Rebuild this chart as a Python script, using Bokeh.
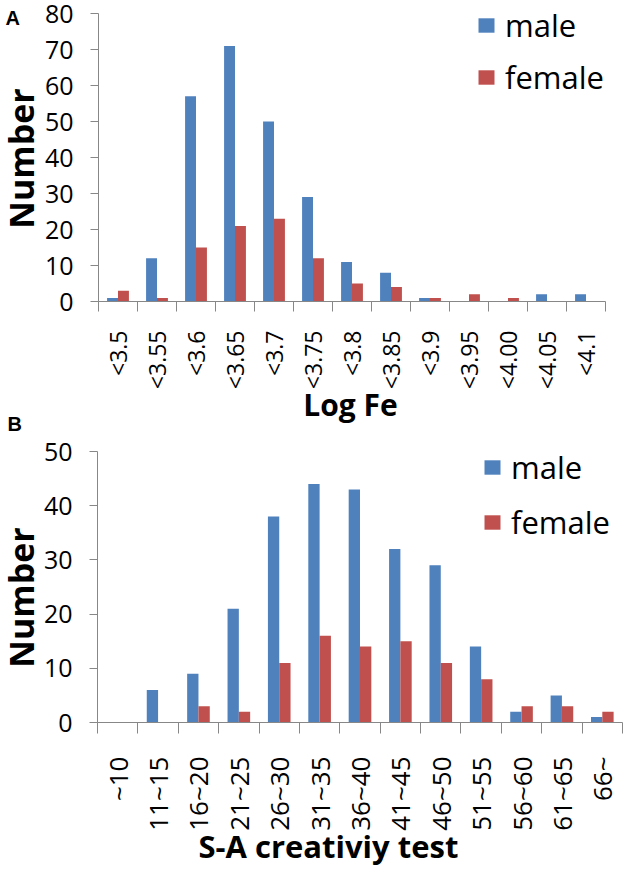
import numpy as np
from bokeh.plotting import figure
from bokeh.models import (FixedTicker, Label, Legend, LegendItem, Range1d,
                          ColumnDataSource)
from bokeh.layouts import column, row
from bokeh.embed import file_html
from bokeh.resources import INLINE

# ---------------- data ----------------
fe_categories = ["<3.5", "<3.55", "<3.6", "<3.65", "<3.7", "<3.75", "<3.8",
                 "<3.85", "<3.9", "<3.95", "<4.00", "<4.05", "<4.1"]
fe_male = [1, 12, 57, 71, 50, 29, 11, 8, 1, 0, 0, 2, 2]
fe_female = [3, 1, 15, 21, 23, 12, 5, 4, 1, 2, 1, 0, 0]
fe_yticks = [0, 10, 20, 30, 40, 50, 60, 70, 80]

sa_categories = ["~10", "11~15", "16~20", "21~25", "26~30", "31~35", "36~40",
                 "41~45", "46~50", "51~55", "56~60", "61~65", "66~"]
sa_male = [0, 6, 9, 21, 38, 44, 43, 32, 29, 14, 2, 5, 1]
sa_female = [0, 0, 3, 2, 11, 16, 14, 15, 11, 8, 3, 3, 2]
sa_yticks = [0, 10, 20, 30, 40, 50]

series_names = ["male", "female"]
y_title = "Number"
x_titles = ["Log Fe", "S-A creativiy test"]
panel_letters = ["A", "B"]

BLUE = "#4F81BD"
RED = "#C0504D"
AXIS = "#878787"
FONT = "Open Sans"
BAR_W = 0.28
STRIP_W = 38
MAIN_W = 590
FULL_W = STRIP_W + MAIN_W


def text_fig(width, height, labels):
    """Figure whose frame is the whole canvas, used to hold free text."""
    s = figure(width=width, height=height, output_backend="svg",
               toolbar_location=None, x_range=Range1d(0, width),
               y_range=Range1d(0, height), min_border=0,
               x_axis_location=None, y_axis_location=None, frame_align=False)
    s.outline_line_color = None
    s.grid.visible = False
    for lab in labels:
        s.add_layout(lab)
    return s


def letter(text, x, y):
    return Label(x=x, y=y, text=text, text_font="Liberation Sans",
                 text_font_style="bold", text_font_size="20px",
                 text_align="left", text_baseline="alphabetic", text_color="black")


def ytitle(x, y):
    return Label(x=x, y=y, text=y_title, text_font=FONT, text_font_style="bold",
                 text_font_size="34px", text_align="center", angle=np.pi / 2,
                 text_baseline="middle", text_color="black")


def xtitle(text, x, y, align, size):
    return Label(x=x, y=y, text=text, text_font=FONT, text_font_style="bold",
                 text_font_size=size, text_align=align,
                 text_baseline="alphabetic", text_color="black")


def panel(cats, male, female, yticks, height, b_left, b_right, b_top, b_bottom,
          tick_font, tick_standoff, tick_out, legend_loc, legend_spacing):
    n = len(cats)
    centers = np.arange(n) + 0.5
    bounds = list(np.arange(n + 1).astype(float))
    p = figure(width=MAIN_W, height=height, output_backend="svg",
               toolbar_location=None, x_range=Range1d(0, n),
               y_range=Range1d(yticks[0], yticks[-1]),
               min_border_left=b_left, min_border_right=b_right,
               min_border_top=b_top, min_border_bottom=b_bottom,
               frame_align=False)
    p.outline_line_color = None
    p.xgrid.visible = False
    p.ygrid.visible = False

    src = ColumnDataSource(dict(xm=centers - BAR_W / 2, xf=centers + BAR_W / 2,
                                male=male, female=female))
    rm = p.vbar(x="xm", top="male", width=BAR_W, source=src,
                fill_color=BLUE, line_color=None)
    rf = p.vbar(x="xf", top="female", width=BAR_W, source=src,
                fill_color=RED, line_color=None)

    xa = p.xaxis[0]
    xa.ticker = FixedTicker(ticks=list(centers), minor_ticks=bounds)
    xa.major_label_overrides = {float(c): lab for c, lab in zip(centers, cats)}
    xa.major_tick_out = 0
    xa.major_tick_in = 0
    xa.minor_tick_out = tick_out
    xa.minor_tick_in = 0
    xa.minor_tick_line_color = AXIS
    xa.axis_line_color = AXIS
    xa.major_label_orientation = np.pi / 2
    xa.major_label_text_font = FONT
    xa.major_label_text_font_size = tick_font
    xa.major_label_text_color = "black"
    xa.major_label_standoff = tick_standoff

    ya = p.yaxis[0]
    ya.ticker = FixedTicker(ticks=yticks, minor_ticks=[])
    ya.major_tick_out = 8
    ya.major_tick_in = 0
    ya.major_tick_line_color = AXIS
    ya.axis_line_color = AXIS
    ya.major_label_text_font = FONT
    ya.major_label_text_font_size = "25px"
    ya.major_label_text_color = "black"
    ya.major_label_standoff = 17

    leg = Legend(items=[LegendItem(label=series_names[0], renderers=[rm]),
                        LegendItem(label=series_names[1], renderers=[rf])],
                 location=legend_loc, orientation="vertical",
                 background_fill_alpha=0, border_line_color=None,
                 label_text_font=FONT, label_text_font_size="31px",
                 label_text_color="black",
                 glyph_width=20, glyph_height=18, label_standoff=9,
                 padding=0, margin=0, spacing=legend_spacing, label_height=38)
    p.add_layout(leg)
    return p


# ---- panel A ----
HA1, HA2 = 392, 41
strip_a = text_fig(STRIP_W, HA1, [letter(panel_letters[0], 5, HA1 - 17),
                                  ytitle(20, HA1 - 158)])
main_a = panel(fe_categories, fe_male, fe_female, fe_yticks, HA1,
               b_left=98 - STRIP_W, b_right=MAIN_W - (605 - STRIP_W), b_top=13,
               b_bottom=90, tick_font="23px", tick_standoff=19, tick_out=10,
               legend_loc=(378, 203), legend_spacing=10)
title_a = text_fig(FULL_W, HA2, [xtitle(x_titles[0], 350, HA2 - 12, "center", "30px"),
                                 letter(panel_letters[1], 7, HA2 - 31)])

# ---- panel B ----
HB1, HB2 = 400, 33
strip_b = text_fig(STRIP_W, HB1, [ytitle(20, HB1 - 164)])
main_b = panel(sa_categories, sa_male, sa_female, sa_yticks, HB1,
               b_left=97 - STRIP_W, b_right=MAIN_W - (622 - STRIP_W), b_top=18,
               b_bottom=HB1 - 289, tick_font="26px", tick_standoff=23, tick_out=11,
               legend_loc=(385, 179), legend_spacing=13)
title_b = text_fig(FULL_W, HB2, [xtitle(x_titles[1], 198, HB2 - 12, "left", "31px")])

layout = column(row(strip_a, main_a, spacing=0), title_a,
                row(strip_b, main_b, spacing=0), title_b, spacing=0)
open("out.html", "w").write(file_html(layout, INLINE))
